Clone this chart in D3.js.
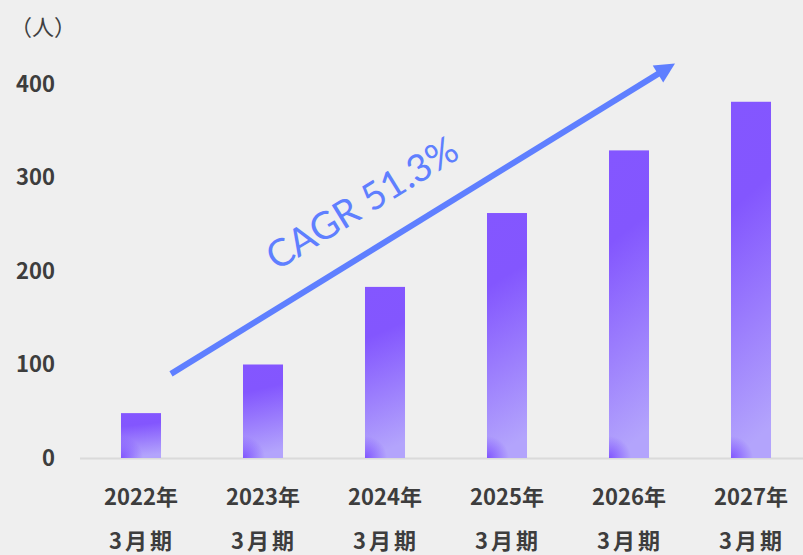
<!DOCTYPE html>
<html lang="ja">
<head>
<meta charset="UTF-8">
<title>CAGR chart</title>
<script src="https://cdnjs.cloudflare.com/ajax/libs/d3/7.8.5/d3.min.js"></script>
<style>
  html, body { margin: 0; padding: 0; background: #efefef; }
  svg { display: block; }
  .tick-label { fill: #3d3d3d; font-family: "Noto Sans CJK JP", "Noto Sans", sans-serif; font-weight: 700; }
  .y-label { font-size: 22px; }
  .x-label { font-size: 22px; }
  .unit { fill: #404040; font-family: "Noto Sans CJK JP", sans-serif; font-size: 22px; }
  .cagr { fill: #5f7fff; font-family: Lato, "Open Sans", sans-serif; font-size: 38px; }
</style>
</head>
<body>
<div id="chart"></div>
<script>
// データ
const periods = ['2022年', '2023年', '2024年', '2025年', '2026年', '2027年']
const periodSub = ['3月期', '3月期', '3月期', '3月期', '3月期', '3月期']
const values = [48, 100, 183, 262, 329, 381]
const yTicks = [0, 100, 200, 300, 400]
const unitLabel = '（人）'
const cagrLabel = 'CAGR 51.3%'

const width = 803
const height = 555
const dims = { left: 80, right: 812, top: 84, bottom: 458 }

const svg = d3.select('#chart').append('svg')
  .attr('width', width)
  .attr('height', height)

svg.append('rect').attr('width', width).attr('height', height).attr('fill', '#efefef')

// スケール
const xScale = d3.scaleBand()
  .domain(periods)
  .range([dims.left, dims.right])
  .paddingInner(0.672)
  .paddingOuter(0.336)

const yScale = d3.scaleLinear()
  .domain([0, 400])
  .range([dims.bottom, dims.top])

const defs = svg.append('defs')
const grad = defs.append('linearGradient')
  .attr('id', 'barGrad')
  .attr('x1', 0).attr('y1', 0).attr('x2', 0.1).attr('y2', 1)
grad.append('stop').attr('offset', '0%').attr('stop-color', '#8456ff')
grad.append('stop').attr('offset', '30%').attr('stop-color', '#8356fe')
grad.append('stop').attr('offset', '100%').attr('stop-color', '#b3a4fc')

// 左下の濃い部分
defs.selectAll('radialGradient')
  .data(periods)
  .join('radialGradient')
  .attr('id', (d, i) => 'corner' + i)
  .attr('gradientUnits', 'userSpaceOnUse')
  .attr('cx', d => xScale(d))
  .attr('cy', yScale(0))
  .attr('r', 22)
  .call(g => {
    g.append('stop').attr('offset', '0%').attr('stop-color', '#7b4dff').attr('stop-opacity', 0.9)
    g.append('stop').attr('offset', '100%').attr('stop-color', '#7b4dff').attr('stop-opacity', 0)
  })

// 基準線
svg.append('line')
  .attr('x1', dims.left).attr('x2', width)
  .attr('y1', yScale(0) + 0.5).attr('y2', yScale(0) + 0.5)
  .attr('stroke', '#dadada')
  .attr('stroke-width', 2)

// 棒
const bars = svg.append('g').selectAll('g')
  .data(values)
  .join('g')

bars.append('rect')
  .attr('x', (d, i) => xScale(periods[i]))
  .attr('y', d => yScale(d))
  .attr('width', xScale.bandwidth())
  .attr('height', d => yScale(0) - yScale(d))
  .attr('fill', 'url(#barGrad)')

bars.append('rect')
  .attr('x', (d, i) => xScale(periods[i]))
  .attr('y', d => yScale(d))
  .attr('width', xScale.bandwidth())
  .attr('height', d => yScale(0) - yScale(d))
  .attr('fill', (d, i) => `url(#corner${i})`)

// Y軸ラベル
svg.append('g').selectAll('text')
  .data(yTicks)
  .join('text')
  .attr('class', 'tick-label y-label')
  .attr('x', 55)
  .attr('y', d => yScale(d))
  .attr('dy', '0.36em')
  .attr('text-anchor', 'end')
  .text(d => d)

// X軸ラベル
const xLabels = svg.append('g').selectAll('text')
  .data(periods)
  .join('text')
  .attr('class', 'tick-label x-label')
  .attr('text-anchor', 'middle')
  .attr('x', d => xScale(d) + xScale.bandwidth() / 2)
xLabels.append('tspan')
  .attr('x', d => xScale(d) + xScale.bandwidth() / 2)
  .attr('y', 505)
  .text(d => d)
xLabels.append('tspan')
  .attr('x', d => xScale(d) + xScale.bandwidth() / 2 + 1)
  .attr('y', 549)
  .attr('letter-spacing', '3px')
  .text((d, i) => periodSub[i])

// 単位
svg.append('text')
  .attr('class', 'unit')
  .attr('x', 10)
  .attr('y', 35)
  .text(unitLabel)

// CAGR 矢印
const x0 = xScale(periods[0]) + xScale.bandwidth() / 2 + 30
const y0 = yScale(90)
const x1 = xScale(periods[4]) + xScale.bandwidth() / 2 + 46
const y1 = yScale(422)
const ang = Math.atan2(y1 - y0, x1 - x0)
const headLen = 20
const headW = 10
const bx = x1 - headLen * Math.cos(ang)
const by = y1 - headLen * Math.sin(ang)

svg.append('line')
  .attr('x1', x0).attr('y1', y0)
  .attr('x2', bx + 2 * Math.cos(ang)).attr('y2', by + 2 * Math.sin(ang))
  .attr('stroke', '#5f7fff')
  .attr('stroke-width', 6)

svg.append('path')
  .attr('d', d3.line()([
    [x1, y1],
    [bx + headW * Math.sin(ang), by - headW * Math.cos(ang)],
    [bx - headW * Math.sin(ang), by + headW * Math.cos(ang)]
  ]) + 'Z')
  .attr('fill', '#5f7fff')

const deg = ang * 180 / Math.PI
svg.append('text')
  .attr('class', 'cagr')
  .attr('text-anchor', 'middle')
  .attr('transform', `translate(362,203) rotate(${deg})`)
  .attr('dy', '0.35em')
  .text(cagrLabel)
</script>
</body>
</html>
